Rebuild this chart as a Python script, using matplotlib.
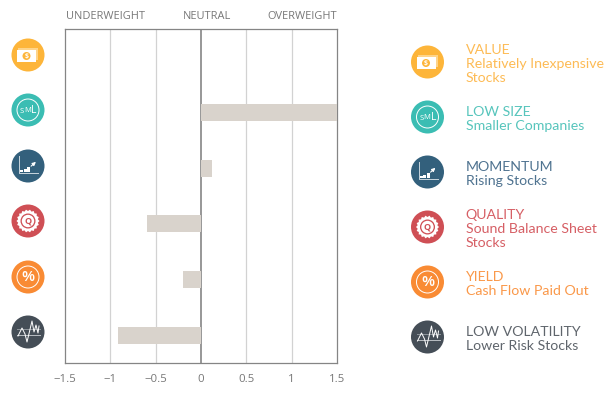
import numpy as np
import matplotlib
matplotlib.use("Agg")
import matplotlib.pyplot as plt
from matplotlib.patches import Circle, Rectangle, Polygon

W, H = 616, 394

factors = ["VALUE", "LOW SIZE", "MOMENTUM", "QUALITY", "YIELD", "LOW VOLATILITY"]
tilts = [0, 1.5, 0.12, -0.6, -0.2, -0.92]
tick_vals = [-1.5, -1, -0.5, 0, 0.5, 1, 1.5]
tick_labels = ["\u22121.5", "\u22121", "\u22120.5", "0", "0.5", "1", "1.5"]
grid_vals = [-1, -0.5, 0.5, 1]
descriptions = [
    ["Relatively Inexpensive", "Stocks"],
    ["Smaller Companies"],
    ["Rising Stocks"],
    ["Sound Balance Sheet", "Stocks"],
    ["Cash Flow Paid Out"],
    ["Lower Risk Stocks"],
]
colors = ["#FDB53A", "#3BBDB3", "#33607C", "#CF4F55", "#F98B34", "#454E57"]
text_colors = ["#FDBB55", "#57C5BC", "#4F7390", "#D65F65", "#FA9849", "#5F656C"]
icon_kinds = ["value", "size", "momentum", "quality", "yield", "vol"]

plt.rcParams["font.family"] = ["Open Sans", "DejaVu Sans"]

fig = plt.figure(figsize=(W / 100, H / 100), dpi=100)

# main chart, axes box
left, right, top, bottom = 65, 337, 29, 363
ax = fig.add_axes([left / W, 1 - bottom / H, (right - left) / W, (bottom - top) / H])
y = np.arange(len(factors))
for g in grid_vals:
    ax.axvline(g, color="#D2D2D2", lw=0.9, zorder=1)
ax.axvline(0, color="#7A7A7A", lw=1.1, zorder=2)
ax.barh(y, tilts, height=0.305, color="#D9D3CC", zorder=3)
ax.set_xlim(-1.5, 1.5)
ax.set_ylim(len(factors) - 0.5, -0.5)
ax.set_yticks([])
ax.set_xticks(tick_vals)
ax.set_xticklabels(tick_labels, fontsize=8.2, color="#777777")
ax.tick_params(axis="x", length=0, pad=8)
for s in ax.spines.values():
    s.set_color("#858585")
    s.set_linewidth(0.9)

# overlay in pixel coordinates for the icons and the side texts
ov = fig.add_axes([0, 0, 1, 1], zorder=5)
ov.set_xlim(0, W)
ov.set_ylim(H, 0)
ov.axis("off")
ov.patch.set_alpha(0)


def draw_icon(cx, cy, kind, color):
    ov.add_patch(Circle((cx, cy), 16.5, fc=color, ec="none"))
    white = "white"
    if kind == "value":
        ov.add_patch(Rectangle((cx - 10, cy - 7.5), 20, 12, fc="#FED48A", ec="none"))
        ov.add_patch(Rectangle((cx - 11, cy - 5), 19, 12, fc=white, ec="none"))
        ov.add_patch(Circle((cx - 1.5, cy + 1), 4, fc=color, ec="none"))
        ov.text(cx - 1.5, cy + 1, "$", color=white, fontsize=5, fontweight="bold",
                ha="center", va="center")
    elif kind == "size":
        ov.add_patch(Circle((cx, cy), 11, fc="none", ec=white, lw=0.7))
        ov.text(cx - 6, cy + 1, "S", color=white, fontsize=5.5, ha="center", va="center")
        ov.text(cx - 0.5, cy + 0.5, "M", color=white, fontsize=5.5, ha="center", va="center")
        ov.text(cx + 6, cy, "L", color=white, fontsize=7.5, ha="center", va="center")
    elif kind == "momentum":
        ov.plot([cx - 9, cx - 9, cx + 10], [cy - 10, cy + 7, cy + 7], color="#C8D5DE", lw=0.7)
        for dx, h in zip([-8, -4.5, -1], [2, 3, 5.5]):
            ov.add_patch(Rectangle((cx + dx, cy + 6 - h), 3, h, fc=white, ec="none"))
        ov.annotate("", xy=(cx + 10, cy - 6), xytext=(cx + 1, cy + 2),
                    arrowprops=dict(arrowstyle="-|>", color=white, lw=0.8, mutation_scale=5))
    elif kind == "quality":
        n = 36
        ang = np.linspace(0, 2 * np.pi, n, endpoint=False)
        rad = np.where(np.arange(n) % 2 == 0, 11.5, 10)
        ov.add_patch(Polygon(np.c_[cx + rad * np.cos(ang), cy + rad * np.sin(ang)], fc=white, ec="none"))
        ov.add_patch(Circle((cx, cy), 7.5, fc=color, ec="none"))
        ov.add_patch(Circle((cx, cy), 6.2, fc=white, ec="none"))
        ov.text(cx, cy, "Q", color=color, fontsize=6.5, fontweight="bold", ha="center", va="center")
    elif kind == "yield":
        ov.add_patch(Circle((cx, cy), 11, fc="none", ec=white, lw=0.7))
        ov.text(cx, cy, "%", color=white, fontsize=11, fontweight="semibold", ha="center", va="center")
    elif kind == "vol":
        ov.plot([cx - 11, cx + 12], [cy + 2.5, cy + 2.5], color="#B9BEC3", lw=0.7)
        ov.plot([cx - 11, cx + 12], [cy - 3.5, cy - 3.5], color="#8F969C", lw=0.7)
        ov.plot(cx + np.array([-10, -6, -3, -1, 4, 6, 8, 10, 11]),
                cy + np.array([4, -4, 2, 10, -11, 0, -7, 1, -6]), color=white, lw=0.7)


row_y = [55, 110, 166, 221, 277, 332]
legend_y = [62, 117, 172, 227, 282, 337]
for i, kind in enumerate(icon_kinds):
    draw_icon(28, row_y[i], kind, colors[i])
    draw_icon(427.5, legend_y[i], kind, colors[i])

# legend text: name and description, 14 px line step
plt_font = dict(family=["Lato", "DejaVu Sans"], fontsize=10.2, va="center", ha="left")
first_line = [49.5, 112, 167, 214.5, 277, 332]
for i, name in enumerate(factors):
    ov.text(465.5, first_line[i], name, color=text_colors[i], **plt_font)
    for j, line in enumerate(descriptions[i]):
        ov.text(465.5, first_line[i] + 14 * (j + 1), line, color=text_colors[i], **plt_font)

# labels over the chart
head = dict(fontsize=7.9, color="#777777", va="center")
ov.text(66, 16, "UNDERWEIGHT", ha="left", **head)
ov.text(206.5, 16, "NEUTRAL", ha="center", **head)
ov.text(337, 16, "OVERWEIGHT", ha="right", **head)

fig.savefig("out.png", dpi=100)
